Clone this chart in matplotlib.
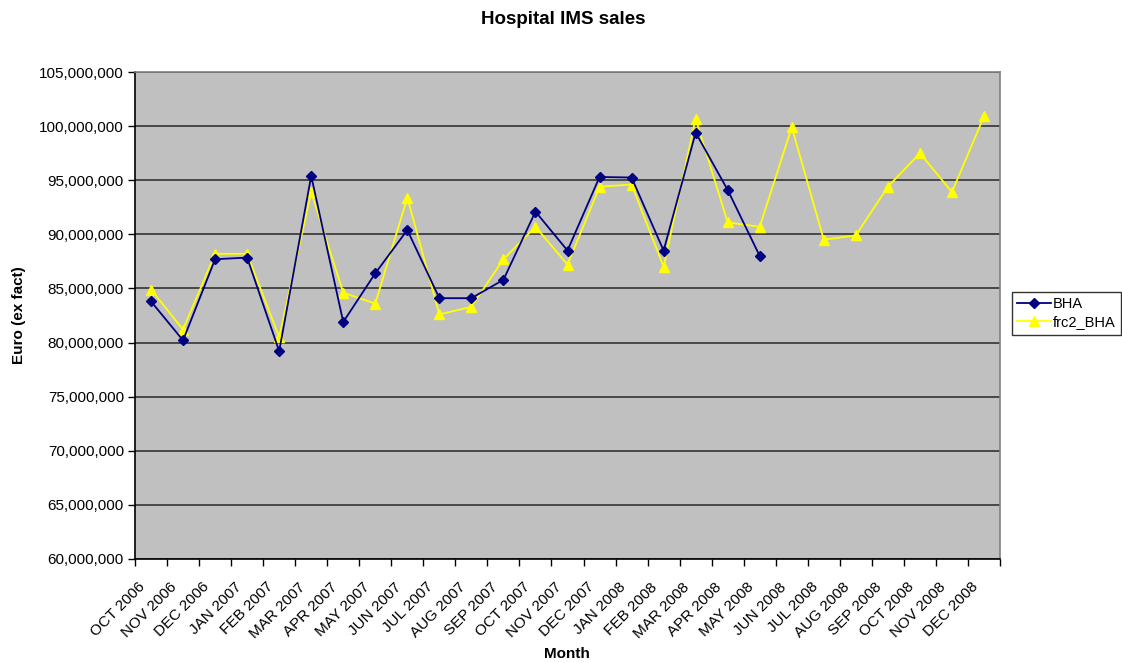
import matplotlib
matplotlib.use("Agg")
import matplotlib.pyplot as plt
from matplotlib.ticker import FuncFormatter, FixedLocator
import matplotlib.transforms as mtransforms

plt.rcParams['font.family'] = ['Liberation Sans', 'DejaVu Sans']

months = ["OCT 2006", "NOV 2006", "DEC 2006", "JAN 2007", "FEB 2007", "MAR 2007",
          "APR 2007", "MAY 2007", "JUN 2007", "JUL 2007", "AUG 2007", "SEP 2007",
          "OCT 2007", "NOV 2007", "DEC 2007", "JAN 2008", "FEB 2008", "MAR 2008",
          "APR 2008", "MAY 2008", "JUN 2008", "JUL 2008", "AUG 2008", "SEP 2008",
          "OCT 2008", "NOV 2008", "DEC 2008"]

# Actual sales (millions of euro), available through May 2008
bha = [83.8, 80.2, 87.7, 87.85, 79.2, 95.4, 81.9, 86.4, 90.4, 84.1, 84.1, 85.8,
       92.1, 88.5, 95.3, 95.25, 88.5, 99.4, 94.1, 88.0]

# Forecast series (millions of euro)
frc2_bha = [84.9, 81.2, 88.2, 88.2, 80.5, 93.9, 84.6, 83.6, 93.4, 82.6, 83.3, 87.7,
            90.7, 87.2, 94.4, 94.6, 87.0, 100.7, 91.1, 90.7, 99.9, 89.5, 89.9, 94.4,
            97.5, 93.9, 100.9]

fig = plt.figure(figsize=(11.22, 6.63), dpi=100)
ax = fig.add_axes([135 / 1122, 1 - 559 / 663, 865 / 1122, 487 / 663])
ax.set_facecolor("#C0C0C0")

x_bha = list(range(len(bha)))
x_frc = list(range(len(frc2_bha)))
ax.plot(x_bha, [v * 1e6 for v in bha], color="#000080", lw=1.3, marker="D",
        markersize=5, label="BHA", zorder=4)
ax.plot(x_frc, [v * 1e6 for v in frc2_bha], color="#FFFF00", lw=1.3, marker="^",
        markersize=7, label="frc2_BHA", zorder=3)

ax.set_xlim(-0.5, len(months) - 0.5)
ax.set_ylim(60e6, 105e6)
ax.set_yticks([60e6 + 5e6 * i for i in range(10)])
ax.yaxis.set_major_formatter(FuncFormatter(lambda v, p: f"{v:,.0f}"))
ax.grid(axis="y", color="#333333", lw=1.2, zorder=1)
ax.set_axisbelow(True)

# Category labels at centres, tick marks at category boundaries
ax.set_xticks(range(len(months)))
ax.set_xticklabels(months, rotation=45, ha="right", rotation_mode="anchor")
ax.tick_params(axis="x", which="major", length=0, labelsize=11, pad=15)
ax.xaxis.set_minor_locator(FixedLocator([i - 0.5 for i in range(len(months) + 1)]))
ax.tick_params(axis="x", which="minor", length=5, width=1, color="black", direction="out")
ax.tick_params(axis="y", length=5, width=1, labelsize=11, pad=3, direction="out")

offset = mtransforms.ScaledTranslation(-13 / 100, 0, fig.dpi_scale_trans)
for lbl in ax.get_xticklabels():
    lbl.set_transform(lbl.get_transform() + offset)

for side in ["left", "bottom"]:
    ax.spines[side].set_color("black")
    ax.spines[side].set_linewidth(1.2)
for side in ["top", "right"]:
    ax.spines[side].set_color("#808080")
    ax.spines[side].set_linewidth(1.2)

fig.text(563 / 1122, 1 - 20 / 663, "Hospital IMS sales", ha="center", va="center",
         fontsize=13.5, fontweight="bold")
fig.text(19 / 1122, 1 - 315 / 663, "Euro (ex fact)", ha="center", va="center",
         rotation=90, fontsize=11, fontweight="bold")
fig.text(567 / 1122, 1 - 654 / 663, "Month", ha="center", va="center",
         fontsize=11, fontweight="bold")

leg = fig.legend(loc="upper left", bbox_to_anchor=(1012 / 1122, 1 - 292 / 663),
                 frameon=True, fancybox=False, fontsize=10.5, handlelength=2.3,
                 handletextpad=0.15, borderpad=0.35, labelspacing=0.3, borderaxespad=0)
leg.get_frame().set_edgecolor("black")
leg.get_frame().set_linewidth(1)

fig.savefig("out.png", dpi=100)
